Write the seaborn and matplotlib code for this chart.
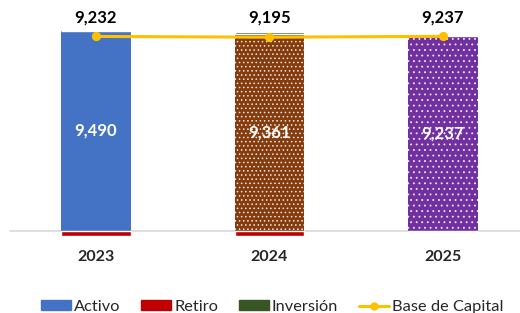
import seaborn as sns
import matplotlib.pyplot as plt
from matplotlib.lines import Line2D
from matplotlib.patches import Patch

years = ["2023", "2024", "2025"]
activo = [9490, 9361, 9237]
retiro = [-258, -256, 0]
inversion = [0, 90, 0]
capital = [9232, 9195, 9237]

activo_colors = ["#4472C4", "#843C0C", "#7030A0"]
activo_hatch = ["", "....", "..."]

sns.set_style("white")
plt.rcParams["font.family"] = ["Lato", "DejaVu Sans"]
plt.rcParams["hatch.linewidth"] = 0.6

fig = plt.figure(figsize=(5.2, 3.13), dpi=100)
ax = fig.add_axes([0, 73 / 313, 1, 240 / 313])

sns.barplot(x=years, y=activo, hue=years, palette=activo_colors, legend=False,
            width=0.4, saturation=1, ax=ax)
for bar, h in zip(ax.patches, activo_hatch):
    bar.set_hatch(h)
    bar.set_edgecolor("#F2E6EC")
    bar.set_linewidth(0)

sns.barplot(x=years, y=retiro, color="#C00000", width=0.4, saturation=1, ax=ax)
sns.barplot(x=years, y=inversion, bottom=activo, color="#375623", width=0.4,
            saturation=1, ax=ax)

ax.axhline(0, color="#D9D9D9", lw=1.2, xmin=0.02, zorder=0.5)

sns.pointplot(x=years, y=capital, color="#FFC000", markers="o", linewidth=2.2,
              markersize=5, ax=ax)

for i, v in enumerate(activo):
    ax.text(i, v / 2, f"{v:,}", color="white", fontweight="bold", fontsize=12,
            ha="center", va="center")
for i, v in enumerate(capital):
    ax.text(i, 10150, f"{v:,}", color="black", fontweight="bold", fontsize=12,
            ha="center", va="center")

ax.set_xlim(-0.553, 2.444)
ax.set_ylim(-427, 10960)
ax.set_yticks([])
ax.set_xlabel("")
ax.set_ylabel("")
ax.tick_params(axis="x", length=0, pad=7)
for lab in ax.get_xticklabels():
    lab.set_fontweight("bold")
    lab.set_fontsize(11.5)
sns.despine(ax=ax, left=True, bottom=True)

handles = [
    Patch(color="#4472C4", label="Activo"),
    Patch(color="#C00000", label="Retiro"),
    Patch(color="#375623", label="Inversión"),
    Line2D([], [], color="#FFC000", lw=2.2, marker="o", markersize=5,
           label="Base de Capital"),
]
fig.legend(handles=handles, loc="lower center", bbox_to_anchor=(0.523, -0.05),
           ncol=4, frameon=False, fontsize=11.8, handlelength=1.85,
           handleheight=0.55, columnspacing=1.25, handletextpad=0.18)

fig.savefig("out.png", dpi=100)
